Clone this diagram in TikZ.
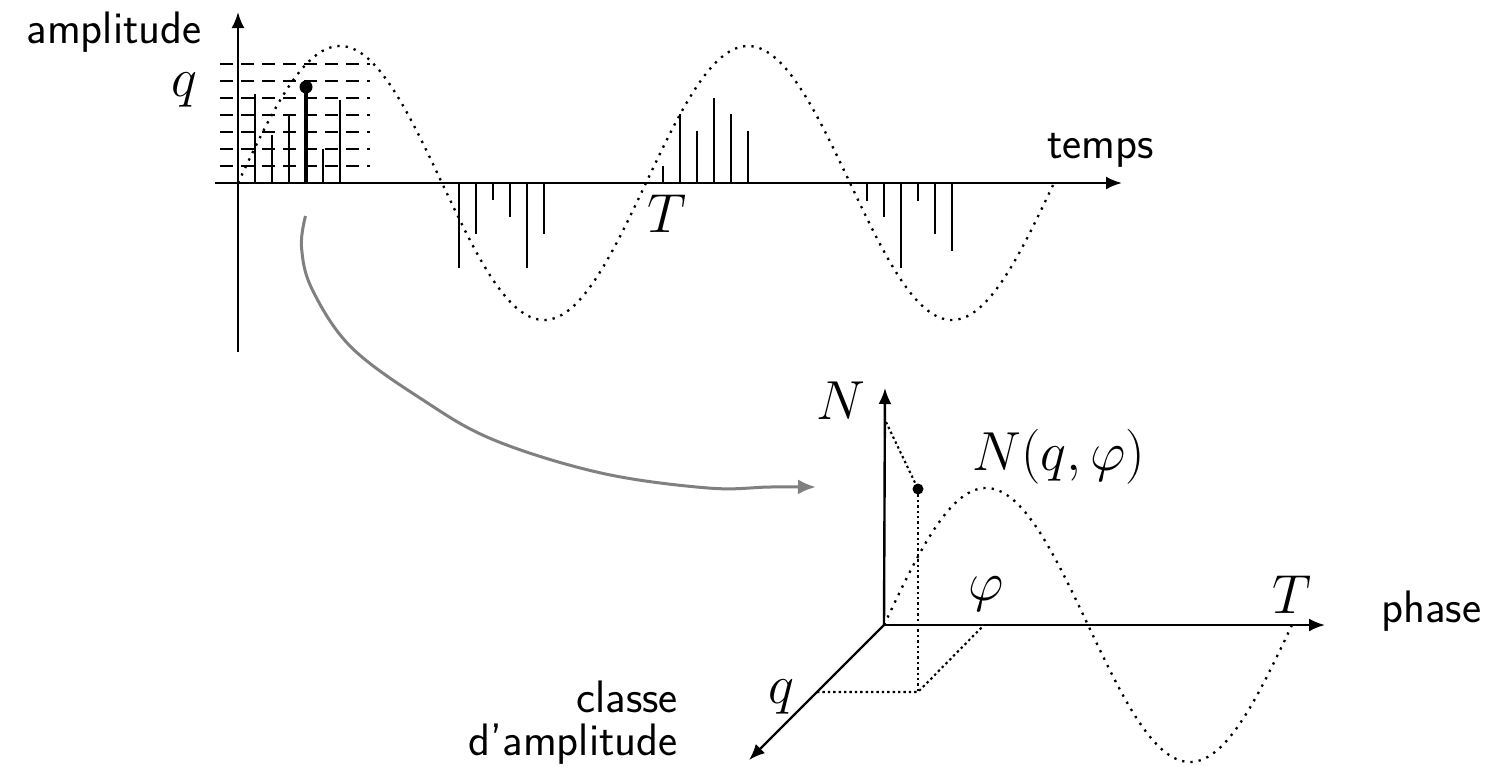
\RequirePackage{fix-cm}
\documentclass[tikz,border=0pt]{standalone}
\usetikzlibrary{arrows.meta}
\begin{document}
\begin{tikzpicture}[x=1pt,y=-1pt,
  axis/.style={line width=2.4pt,-{Latex[length=16pt,width=13pt]}},
  stem/.style={line width=2.2pt},
  bigstem/.style={line width=3.6pt},
  level/.style={line width=2pt,dash pattern=on 13pt off 8pt},
  wave/.style={line width=2.3pt,dash pattern=on 2.3pt off 6pt},
  proj/.style={line width=2.1pt,dash pattern=on 2.4pt off 3pt},
  txt/.style={font=\fontsize{45.5}{54}\selectfont\sffamily, inner sep=0pt},
  mth/.style={font=\fontsize{55}{62}\selectfont, inner sep=0pt},
  link/.style={draw=gray, line width=3pt, -{Latex[length=18pt,width=15pt]}}
]
\useasboundingbox (0,0) rectangle (1491,766);

% ---------- top plot ----------
\coordinate (O1) at (238,183);
\coordinate (ax1l) at (215,183);
\coordinate (ax1r) at (1122,183);
\coordinate (ay1b) at (238,352);
\coordinate (ay1t) at (238,12);

\foreach \k in {1,...,7}
  \draw[level] ({220},{183-17*\k}) -- ({370},{183-17*\k});

\foreach \xx/\yy in {255/94, 272/134.7, 289/114.7, 323/148.7, 340/100,
    459/268.3, 476/234, 493/200.3, 510/217, 527/268.3, 544/234,
    663/165.7, 680/114.3, 697/131.3, 714/97.7, 731/114.3, 748/131.3,
    867/200.7, 884/217.3, 901/268, 918/200.7, 935/234.3, 952/251.3}
  \draw[stem] (\xx,183) -- (\xx,\yy);

\coordinate (qs) at (306,183);
\coordinate (qd) at (306,87);
\draw[bigstem] (qs) -- (qd);
\fill (qd) circle (6.5pt);

\draw[wave] plot[domain=0:816,samples=300] ({238+\x},{183-137*sin(0.882353*\x)});

\draw[axis] (ax1l) -- (ax1r);
\draw[axis] (ay1b) -- (ay1t);

\node[txt, anchor=base east] (lamp) at (202,43) {amplitude};
\node[mth, anchor=base east] (lq1) at (198,96) {$q$};
\node[mth, anchor=base west] (lT1) at (647,232) {$T$};
\node[txt, anchor=base west] (ltemps) at (1047,158) {temps};

% ---------- grey link ----------
\coordinate (gs) at (305.5,216);
\coordinate (ge) at (816,487);
\draw[link] plot[smooth, tension=0.6] coordinates {(gs) (301.5,247) (312,289) (351,347) (423,400) (494,440) (601,473) (708,488) (770,487) (ge)};

% ---------- bottom plot ----------
\coordinate (O2) at (884,625);
\coordinate (Nt) at (885,388);
\coordinate (Pt) at (1325,625);
\coordinate (Qt) at (749,760);
\coordinate (Nv) at (886,422);
\coordinate (dot) at (918,489);
\coordinate (foot) at (918,692);
\coordinate (qp) at (817,692);
\coordinate (phip) at (984,625);

\draw[wave] plot[domain=0:408,samples=200] ({884+\x},{625-137*sin(0.882353*\x)});

\draw[proj] (Nv) -- (dot);
\draw[proj] (dot) -- (foot);
\draw[proj] (qp) -- (foot) -- (phip);
\fill (dot) circle (5.5pt);

\draw[axis] (O2) -- (Nt);
\draw[axis] (O2) -- (Pt);
\draw[axis] (O2) -- (Qt);

\node[mth, anchor=base east] (lN) at (866,419) {$N$};
\node[mth, anchor=base west] (lNq) at (972,470) {$N(q,\varphi)$};
\node[mth, anchor=base] (lphi) at (986,600) {$\varphi$};
\node[mth, anchor=base] (lT2) at (1292,613) {$T$};
\node[txt, anchor=base west] (lphase) at (1381,622) {phase};
\node[txt, anchor=base east] (lcl1) at (678,712) {classe};
\node[txt, anchor=base east] (lcl2) at (678,755) {d'amplitude};
\node[mth, anchor=base east] (lq2) at (795,703) {$q$};
\end{tikzpicture}
\end{document}
